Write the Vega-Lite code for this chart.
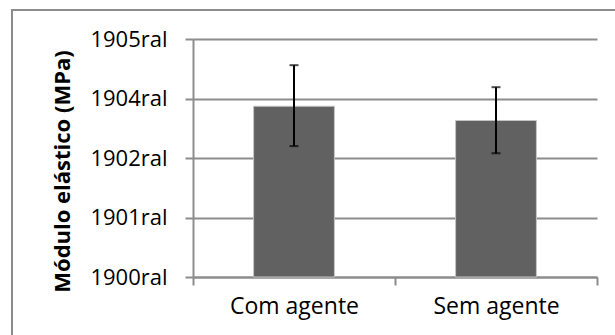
{
  "$schema": "https://vega.github.io/schema/vega-lite/v6.json",
  "autosize": {"type": "none"},
  "padding": {"left": 12, "top": 10, "right": 0, "bottom": 0},
  "width": 604,
  "height": 326,
  "background": "white",
  "config": {
    "view": {"stroke": "#8c8c8c", "strokeWidth": 2},
    "font": "Open Sans"
  },
  "data": {
    "values": [
      {"grupo": "Com agente", "valor": 2.87, "erro_min": 2.20, "erro_max": 3.56},
      {"grupo": "Sem agente", "valor": 2.63, "erro_min": 2.08, "erro_max": 3.19}
    ]
  },
  "encoding": {
    "x": {
      "field": "grupo",
      "type": "nominal",
      "sort": null,
      "scale": {"range": [181, 585], "paddingInner": 0, "paddingOuter": 0},
      "axis": {
        "title": null,
        "offset": -59,
        "tickBand": "extent",
        "labelAngle": 0,
        "labelFont": "Open Sans",
        "labelFontSize": 23,
        "labelColor": "#000000",
        "labelPadding": 10,
        "domainColor": "#8c8c8c",
        "domainWidth": 2,
        "tickColor": "#8c8c8c",
        "tickWidth": 2,
        "tickSize": 8,
        "grid": false
      }
    }
  },
  "layer": [
    {
      "mark": {"type": "bar", "width": {"band": 0.4}, "color": "#616161", "stroke": "#c4c4c4", "strokeWidth": 1},
      "encoding": {
        "y": {
          "field": "valor",
          "type": "quantitative",
          "scale": {"domain": [0, 4], "range": [267, 29], "nice": false, "zero": true},
          "axis": {
            "title": "Módulo elástico (MPa)",
            "titleFont": "Open Sans",
            "titleFontSize": 22,
            "titleFontWeight": "bold",
            "titleColor": "#000000",
            "titleAngle": -90,
            "titleAlign": "center",
            "titleBaseline": "middle",
            "titleX": -131,
            "titleY": 161,
            "offset": -181,
            "values": [0, 1, 2, 3, 4],
            "labelExpr": "['1900ral','1901ral','1902ral','1904ral','1905ral'][datum.value]",
            "labelFont": "Open Sans",
            "labelFontSize": 22,
            "labelColor": "#000000",
            "labelPadding": 18,
            "domainColor": "#8c8c8c",
            "domainWidth": 2,
            "tickColor": "#8c8c8c",
            "tickWidth": 2,
            "tickSize": 8,
            "grid": true,
            "gridColor": "#8c8c8c",
            "gridWidth": 2
          }
        }
      }
    },
    {
      "mark": {"type": "rule", "color": "#000000", "strokeWidth": 2},
      "encoding": {
        "y": {"field": "erro_min", "type": "quantitative"},
        "y2": {"field": "erro_max"}
      }
    },
    {
      "mark": {"type": "tick", "color": "#000000", "size": 9, "thickness": 2},
      "encoding": {"y": {"field": "erro_min", "type": "quantitative"}}
    },
    {
      "mark": {"type": "tick", "color": "#000000", "size": 9, "thickness": 2},
      "encoding": {"y": {"field": "erro_max", "type": "quantitative"}}
    }
  ]
}
